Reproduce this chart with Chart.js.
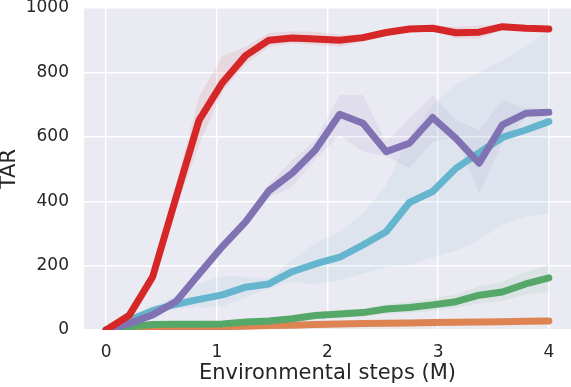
<!DOCTYPE html>
<html>
<head>
<meta charset="utf-8">
<script src="https://cdn.jsdelivr.net/npm/chart.js@4/dist/chart.umd.min.js"></script>
<style>
html,body{margin:0;padding:0;background:#fff;}
#wrap{width:571px;height:387px;position:relative;}
</style>
</head>
<body>
<div id="wrap"><canvas id="c"></canvas></div>
<script>
const steps = [0, 0.21, 0.42, 0.63, 0.84, 1.05, 1.26, 1.47, 1.68, 1.89, 2.11, 2.32, 2.53, 2.74, 2.95, 3.16, 3.37, 3.58, 3.79, 4.0];
const xTicks = [0, 1, 2, 3, 4];
const yTicks = [0, 200, 400, 600, 800, 1000];

const redMean  = [0, 46, 165, 410, 652, 768, 852, 900, 907, 904, 900, 908, 924, 935, 937, 923, 925, 942, 937, 935];
const redHigh  = [5, 52, 178, 445, 725, 850, 880, 922, 928, 926, 918, 918, 932, 942, 946, 942, 946, 950, 944, 942];
const redLow   = [0, 40, 152, 378, 575, 740, 825, 880, 890, 885, 880, 895, 914, 928, 930, 905, 905, 930, 930, 928];

const purpleMean = [0, 20, 47, 88, 174, 259, 336, 432, 487, 559, 670, 642, 554, 580, 660, 595, 518, 637, 673, 676];
const purpleHigh = [0, 25, 55, 98, 190, 278, 352, 452, 528, 588, 730, 730, 585, 658, 730, 652, 621, 714, 690, 685];
const purpleLow  = [0, 15, 40, 80, 160, 242, 320, 410, 445, 530, 605, 554, 540, 503, 585, 600, 425, 580, 660, 665];

const cyanMean = [0, 30, 60, 80, 95, 109, 133, 143, 181, 205, 226, 264, 305, 396, 430, 502, 551, 598, 621, 647];
const cyanHigh = [0, 40, 75, 105, 145, 168, 165, 160, 217, 270, 305, 362, 450, 600, 700, 761, 802, 838, 880, 930];
const cyanLow  = [0, 25, 52, 65, 70, 72, 100, 128, 150, 140, 155, 175, 195, 202, 225, 245, 280, 326, 352, 362];

const greenMean = [0, 10, 17, 18, 18, 19, 25, 28, 35, 45, 50, 54, 65, 70, 78, 88, 108, 118, 143, 162];
const greenHigh = [0, 12, 20, 22, 23, 25, 32, 36, 44, 56, 62, 66, 80, 88, 98, 110, 135, 150, 180, 205];
const greenLow  = [0, 8, 14, 15, 14, 14, 18, 20, 26, 34, 38, 42, 50, 54, 60, 68, 82, 90, 110, 118];

const orangeMean = [0, 2, 4, 6, 8, 10, 12, 14, 15, 17, 19, 20, 21, 22, 23, 24, 25, 26, 27, 28];
const orangeHigh = [0, 3, 6, 8, 10, 12, 14, 16, 18, 20, 22, 23, 24, 25, 26, 27, 28, 29, 30, 31];
const orangeLow  = [0, 1, 2, 4, 6, 8, 10, 12, 12, 14, 16, 17, 18, 19, 20, 21, 22, 23, 24, 25];

function pts(arr){ return arr.map((v,i)=>({x:steps[i], y:v})); }

const series = [
  {mean: redMean, low: redLow, high: redHigh, color: [214,39,40]},
  {mean: purpleMean, low: purpleLow, high: purpleHigh, color: [129,114,179]},
  {mean: cyanMean, low: cyanLow, high: cyanHigh, color: [100,181,205]},
  {mean: greenMean, low: greenLow, high: greenHigh, color: [85,168,104]},
  {mean: orangeMean, low: orangeLow, high: orangeHigh, color: [221,132,82]}
];

const datasets = [];
series.forEach(s=>{
  datasets.push({
    data: pts(s.mean),
    borderColor: `rgb(${s.color.join(',')})`,
    borderWidth: 7,
    borderCapStyle: 'round',
    borderJoinStyle: 'round',
    pointRadius: 0,
    fill: false,
    tension: 0,
    clip: 0
  });
});
series.forEach(s=>{
  datasets.push({
    data: pts(s.high),
    borderWidth: 0,
    pointRadius: 0,
    backgroundColor: `rgba(${s.color.join(',')},0.09)`,
    fill: '+1',
    tension: 0,
    clip: 0
  });
  datasets.push({
    data: pts(s.low),
    borderWidth: 0,
    pointRadius: 0,
    fill: false,
    tension: 0,
    clip: 0
  });
});

const bgPlugin = {
  id: 'bg',
  beforeDraw(chart){
    const {ctx, chartArea:a} = chart;
    ctx.save();
    ctx.fillStyle = '#EAEAF2';
    ctx.fillRect(a.left, a.top, a.right - a.left, a.bottom - a.top);
    ctx.restore();
  }
};

const txt = '#262626';
new Chart(document.getElementById('c'), {
  type: 'line',
  data: { datasets },
  plugins: [bgPlugin],
  options: {
    responsive: true,
    maintainAspectRatio: false,
    animation: false,
    layout: { padding: {top: 8, right: 0, left: 0, bottom: 0} },
    plugins: { legend: {display: false}, tooltip: {enabled: false} },
    scales: {
      x: {
        type: 'linear',
        min: -0.2, max: 4.2,
        afterBuildTicks(scale){ scale.ticks = xTicks.map(v=>({value:v})); },
        afterFit(scale){ scale.height = 57; scale.paddingLeft = 0; scale.paddingRight = 0; },
        border: {display: false},
        grid: {color: '#ffffff', lineWidth: 1.4, drawTicks: false},
        ticks: {color: txt, font: {family: 'DejaVu Sans', size: 17}, padding: 12, maxRotation: 0,
          callback: v => String(v)},
        title: {display: true, text: 'Environmental steps (M)', color: txt,
          font: {family: 'DejaVu Sans', size: 21}, padding: {top: 0, bottom: 1}}
      },
      y: {
        type: 'linear',
        min: 0, max: 1000,
        afterBuildTicks(scale){ scale.ticks = yTicks.map(v=>({value:v})); },
        afterFit(scale){ scale.width = 84; scale.paddingTop = 0; scale.paddingBottom = 0; },
        border: {display: false},
        grid: {color: '#ffffff', lineWidth: 1.4, drawTicks: false},
        ticks: {color: txt, font: {family: 'DejaVu Sans', size: 17}, padding: 15,
          callback: v => String(v)},
        title: {display: true, text: 'TAR', color: txt,
          font: {family: 'DejaVu Sans', size: 21, lineHeight: 1}, padding: {top: -1, bottom: 0}}
      }
    }
  }
});
</script>
</body>
</html>
